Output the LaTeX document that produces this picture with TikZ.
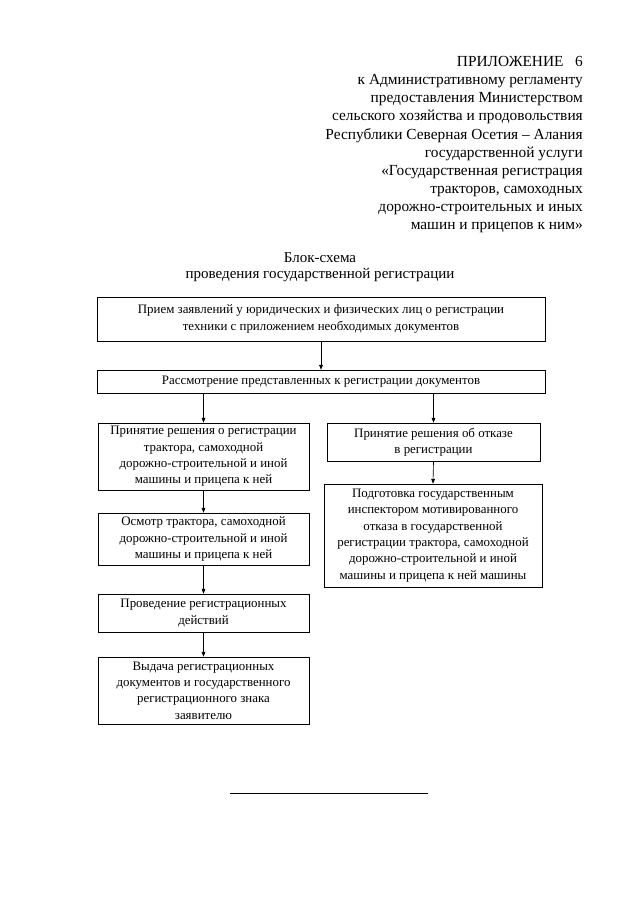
\documentclass[tikz,border=0pt]{standalone}
\usepackage{fontspec}
\setmainfont{Liberation Serif}
\usetikzlibrary{arrows.meta}
\begin{document}
\begin{tikzpicture}[x=0.9302pt,y=-0.9302pt,
  box/.style={draw,line width=0.6pt,align=center,font=\fontsize{12}{15.2}\selectfont,inner sep=0pt},
  arr/.style={line width=0.6pt,-{Triangle[length=4.5pt,width=3.5pt]}},
  hdr/.style={align=right,font=\fontsize{14.3}{16.9}\selectfont,inner sep=0pt},
  ttl/.style={align=center,font=\fontsize{14}{15.6}\selectfont,inner sep=0pt}]
\useasboundingbox (0,0) rectangle (640,905);
\fill[white] (0,0) rectangle (640,905);

\node[hdr,anchor=north east] (header) at (583,56) {ПРИЛОЖЕНИЕ\ \ \ 6\\
к Административному регламенту\\
предоставления Министерством\\
сельского хозяйства и продовольствия\\
Республики Северная Осетия -- Алания\\
государственной услуги\\
«Государственная регистрация\\
тракторов, самоходных\\
дорожно-строительных и иных\\
машин и прицепов к ним»};

\node[ttl,anchor=north] (title) at (320,252) {Блок-схема\\проведения государственной регистрации};

\node[box,minimum width=416.7pt,minimum height=40.9pt] (b1) at (321,319)
  {Прием заявлений у юридических и физических лиц о регистрации\\техники с приложением необходимых документов};
\node[box,minimum width=416.7pt,minimum height=21.4pt] (b2) at (321,381.5)
  {Рассмотрение представленных к регистрации документов};

\node[box,minimum width=196.3pt,minimum height=62.3pt] (l1) at (203.5,456.5)
  {Принятие решения о регистрации\\трактора, самоходной\\дорожно-строительной и иной\\машины и прицепа к ней};
\node[box,minimum width=196.3pt,minimum height=48.4pt] (l2) at (203.5,539)
  {Осмотр трактора, самоходной\\дорожно-строительной и иной\\машины и прицепа к ней};
\node[box,minimum width=196.3pt,minimum height=35.3pt] (l3) at (203.5,613)
  {Проведение регистрационных\\действий};
\node[box,minimum width=196.3pt,minimum height=62.3pt] (l4) at (203.5,690.5)
  {Выдача регистрационных\\документов и государственного\\регистрационного знака\\заявителю};

\node[box,minimum width=198.1pt,minimum height=35.3pt] (r1) at (433.5,442)
  {Принятие решения об отказе\\в регистрации};
\node[box,minimum width=202.8pt,minimum height=95.8pt] (r2) at (433,535.5)
  {Подготовка государственным\\инспектором мотивированного\\отказа в государственной\\регистрации трактора, самоходной\\дорожно-строительной и иной\\машины и прицепа к ней машины};

\draw[arr] (b1.south) -- (b2.north);
\draw[arr] (b2.south -| l1.north) -- (l1.north);
\draw[arr] (b2.south -| r1.north) -- (r1.north);
\draw[arr] (l1.south) -- (l2.north);
\draw[arr] (l2.south) -- (l3.north);
\draw[arr] (l3.south) -- (l4.north);
\draw[arr] (r1.south) -- (r2.north);

\coordinate (rl) at (230,793);
\coordinate (rr) at (428,793);
\draw[line width=0.6pt] (rl) -- (rr);
\end{tikzpicture}
\end{document}
